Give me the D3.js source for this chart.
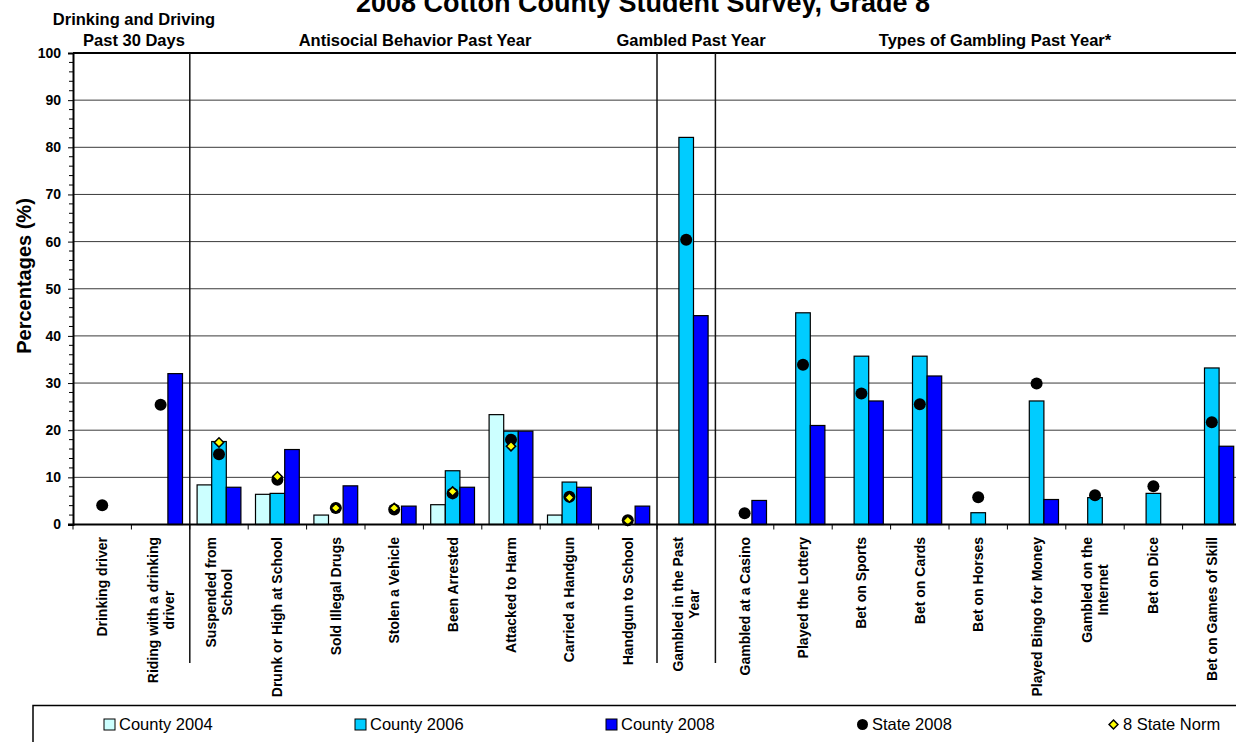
<!DOCTYPE html>
<html>
<head>
<meta charset="utf-8">
<script src="https://cdn.jsdelivr.net/npm/d3@7"></script>
<style>
  html, body { margin: 0; padding: 0; background: #fff; overflow: hidden; }
  svg { display: block; font-family: Arial, "Liberation Sans", Helvetica, sans-serif; }
</style>
</head>
<body>
<svg id="chart" width="1236" height="742"></svg>
<script>
// ---------------- data ----------------
const categories = [
  "Drinking driver", "Riding with a drinking driver", "Suspended from School",
  "Drunk or High at School", "Sold Illegal Drugs", "Stolen a Vehicle",
  "Been Arrested", "Attacked to Harm", "Carried a Handgun", "Handgun to School",
  "Gambled in the Past Year", "Gambled at a Casino", "Played the Lottery",
  "Bet on Sports", "Bet on Cards", "Bet on Horses", "Played Bingo for Money",
  "Gambled on the Internet", "Bet on Dice", "Bet on Games of Skill"
];
const labelLines = [
  ["Drinking driver"], ["Riding with a drinking", "driver"], ["Suspended from", "School"],
  ["Drunk or High at School"], ["Sold Illegal Drugs"], ["Stolen a Vehicle"],
  ["Been Arrested"], ["Attacked to Harm"], ["Carried a Handgun"], ["Handgun to School"],
  ["Gambled in the Past", "Year"], ["Gambled at a Casino"], ["Played the Lottery"],
  ["Bet on Sports"], ["Bet on Cards"], ["Bet on Horses"], ["Played Bingo for Money"],
  ["Gambled on the", "Internet"], ["Bet on Dice"], ["Bet on Games of Skill"]
];
const county2004 = [null, null, 8.4, 6.4, 2.0, null, 4.2, 23.3, 2.0, null,
                    null, null, null, null, null, null, null, null, null, null];
const county2006 = [null, null, 17.6, 6.6, null, null, 11.4, 19.8, 9.0, null,
                    82.1, null, 44.9, 35.7, 35.7, 2.5, 26.2, 5.7, 6.6, 33.2];
const county2008 = [null, 32.0, 7.9, 15.9, 8.2, 3.9, 7.9, 19.8, 7.9, 3.9,
                    44.3, 5.1, 21.0, 26.2, 31.5, null, 5.3, null, null, 16.6];
const state2008  = [4.1, 25.4, 14.9, 9.5, 3.5, 3.2, 6.6, 18.0, 5.9, 0.9,
                    60.4, 2.4, 33.9, 27.8, 25.5, 5.8, 29.9, 6.2, 8.1, 21.7];
const stateNorm  = [null, null, 17.4, 10.2, 3.5, 3.5, 7.0, 16.6, 5.7, 0.8,
                    null, null, null, null, null, null, null, null, null, null];
const barSeries = ["County 2004", "County 2006", "County 2008"];
const barColors = ["#CCFFFF", "#00CCFF", "#0000FF"];
const groups = [
  { name: ["Drinking and Driving", "Past 30 Days"], from: 0, to: 2 },
  { name: ["Antisocial Behavior Past Year"], from: 2, to: 10 },
  { name: ["Gambled Past Year"], from: 10, to: 11 },
  { name: ["Types of Gambling Past Year*"], from: 11, to: 20 }
];
const yTicks = [0, 10, 20, 30, 40, 50, 60, 70, 80, 90, 100];
const title = "2008 Cotton County Student Survey, Grade 8";
const yTitle = "Percentages (%)";
const legendItems = ["County 2004", "County 2006", "County 2008", "State 2008", "8 State Norm"];

(function draw() {
// ---------------- layout ----------------
const svg = d3.select("#chart");
const pLeft = 73, step = 58.4, pTop = 53, pBottom = 524.5;
const x = d3.scaleBand().domain(categories).range([pLeft, pLeft + categories.length * step]).padding(0);
const xs = d3.scaleBand().domain(barSeries).range([0, x.bandwidth()]).paddingInner(0).paddingOuter(0.5);
const y = d3.scaleLinear().domain([0, 100]).range([pBottom, pTop]);
const pRight = x.range()[1];

// title
svg.append("text").attr("x", 643).attr("y", 12).attr("text-anchor", "middle")
  .attr("font-size", 27).attr("font-weight", "bold").text(title);

// gridlines
svg.append("g").selectAll("line").data(yTicks.filter(t => t > 0 && t < 100)).join("line")
  .attr("x1", pLeft).attr("x2", pRight).attr("y1", d => y(d)).attr("y2", d => y(d))
  .attr("stroke", "#3a3a3a").attr("stroke-width", 1);
// top border
svg.append("line").attr("x1", pLeft).attr("x2", pRight).attr("y1", y(100)).attr("y2", y(100))
  .attr("stroke", "#000").attr("stroke-width", 2);

// group separators
groups.slice(1).forEach(g => {
  const sx = x(categories[g.from]);
  svg.append("line").attr("x1", sx).attr("x2", sx).attr("y1", y(100)).attr("y2", 663)
    .attr("stroke", "#111").attr("stroke-width", 1.5);
});

// group headers
groups.forEach((g, i) => {
  const cx = [134, 415, 691, 995][i];
  const t = svg.append("text").attr("text-anchor", "middle").attr("font-size", 16.5)
    .attr("font-weight", "bold");
  const lines = g.name;
  lines.forEach((ln, k) => {
    t.append("tspan").attr("x", cx).attr("y", 46 - (lines.length - 1 - k) * 21).text(ln);
  });
});

// bars
const seriesVals = [county2004, county2006, county2008];
seriesVals.forEach((vals, si) => {
  svg.append("g").selectAll("rect")
    .data(vals.map((v, i) => ({ v, c: categories[i] })).filter(d => d.v != null))
    .join("rect")
    .attr("x", d => x(d.c) + xs(barSeries[si]))
    .attr("y", d => y(d.v))
    .attr("width", xs.bandwidth())
    .attr("height", d => y(0) - y(d.v))
    .attr("fill", barColors[si])
    .attr("stroke", "#000").attr("stroke-width", 1.2);
});

// state markers
svg.append("g").selectAll("circle")
  .data(state2008.map((v, i) => ({ v, c: categories[i] })).filter(d => d.v != null))
  .join("circle")
  .attr("cx", d => x(d.c) + x.bandwidth() / 2).attr("cy", d => y(d.v)).attr("r", 6)
  .attr("fill", "#000");

const diamondType = d3.symbolDiamond2 || d3.symbolDiamond;
svg.append("g").selectAll("path")
  .data(stateNorm.map((v, i) => ({ v, c: categories[i] })).filter(d => d.v != null))
  .join("path")
  .attr("d", d3.symbol().type(diamondType).size(55))
  .attr("transform", d => `translate(${x(d.c) + x.bandwidth() / 2},${y(d.v)})`)
  .attr("fill", "#FFFF00").attr("stroke", "#000").attr("stroke-width", 1.5);

// y axis
const yAxis = svg.append("g").attr("transform", `translate(${pLeft},0)`)
  .call(d3.axisLeft(y).tickValues(yTicks).tickSize(5).tickPadding(7).tickFormat(d3.format("d")));
yAxis.select(".domain").attr("stroke", "#000").attr("stroke-width", 2);
yAxis.selectAll("text").attr("font-size", 14).attr("font-weight", "bold")
  .attr("font-family", "Arial, 'Liberation Sans', sans-serif").attr("fill", "#000");
// minor ticks
const minor = d3.range(0, 101, 2).filter(v => v % 10 !== 0);
svg.append("g").selectAll("line").data(minor).join("line")
  .attr("x1", pLeft - 4).attr("x2", pLeft).attr("y1", d => y(d)).attr("y2", d => y(d))
  .attr("stroke", "#000").attr("stroke-width", 1);

// x axis
svg.append("line").attr("x1", pLeft - 5).attr("x2", pRight).attr("y1", y(0)).attr("y2", y(0))
  .attr("stroke", "#000").attr("stroke-width", 2);
svg.append("g").selectAll("line").data(d3.range(categories.length + 1)).join("line")
  .attr("x1", i => pLeft + i * step).attr("x2", i => pLeft + i * step)
  .attr("y1", y(0)).attr("y2", y(0) + 5).attr("stroke", "#000").attr("stroke-width", 1);

// category labels (rotated)
categories.forEach((c, i) => {
  const lines = labelLines[i];
  const cx = x(c) + x.bandwidth() / 2;
  const g = svg.append("g");
  const texts = lines.map((ln, k) => {
    const off = (k - (lines.length - 1) / 2) * 16;
    return g.append("text").attr("font-size", 14).attr("font-weight", "bold")
      .attr("text-anchor", "middle").attr("dy", "0.36em").text(ln)
      .attr("data-off", off);
  });
  const maxLen = d3.max(texts, t => t.node().getComputedTextLength());
  texts.forEach(t => {
    const off = +t.attr("data-off");
    const cy = 537 + maxLen / 2;
    t.attr("transform", `translate(${cx + off},${cy}) rotate(-90)`);
  });
});

// y axis title
svg.append("text").attr("transform", `translate(24,276) rotate(-90)`)
  .attr("text-anchor", "middle").attr("dy", "0.36em")
  .attr("font-size", 20).attr("font-weight", "bold").text(yTitle);

// legend
svg.append("rect").attr("x", 33).attr("y", 705.5).attr("width", 1300).attr("height", 80)
  .attr("fill", "none").attr("stroke", "#000").attr("stroke-width", 1.5);
const legX = [104, 355, 606, 857, 1108];
legendItems.forEach((name, i) => {
  const lx = legX[i], ly = 724.5;
  if (i < 3) {
    svg.append("rect").attr("x", lx).attr("y", ly - 5.5).attr("width", 11).attr("height", 11)
      .attr("fill", barColors[i]).attr("stroke", "#000").attr("stroke-width", 1);
  } else if (i === 3) {
    svg.append("circle").attr("cx", lx + 5.5).attr("cy", ly).attr("r", 5.5).attr("fill", "#000");
  } else {
    svg.append("path").attr("d", d3.symbol().type(diamondType).size(50))
      .attr("transform", `translate(${lx + 5.5},${ly})`)
      .attr("fill", "#FFFF00").attr("stroke", "#000").attr("stroke-width", 1.5);
  }
  svg.append("text").attr("x", lx + 15).attr("y", ly).attr("dy", "0.36em")
    .attr("font-size", 16.5).text(name);
});
})();
</script>
</body>
</html>
